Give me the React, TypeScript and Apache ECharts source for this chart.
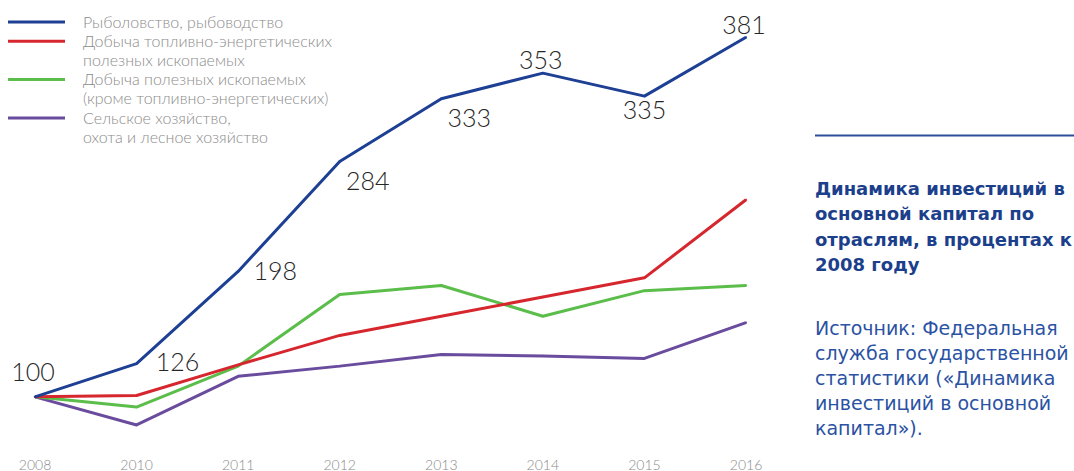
import React, { useEffect, useRef } from "react";
import * as echarts from "echarts";

const years = ["2008", "2010", "2011", "2012", "2013", "2014", "2015", "2016"];
const fishing = [100, 126, 198, 284, 333, 353, 335, 381];
const fuelMining = [100, 101, 125, 148, 163, 178, 193, 254];
const otherMining = [100, 92, 124, 180, 187, 163, 183, 187];
const agriculture = [100, 78, 116, 124, 133, 132, 130, 158];
const fishingLabelOffsets: [number, number][] = [
  [-2, -26], [41, -3], [37, -1], [28, 19], [28, 18], [-2, -14], [0, 13], [-2, -13],
];

const seriesNames = [
  "Рыболовство, рыбоводство",
  "Добыча топливно-энергетических полезных ископаемых",
  "Добыча полезных ископаемых (кроме топливно-энергетических)",
  "Сельское хозяйство, охота и лесное хозяйство",
];
const legendLines = [
  ["Рыболовство, рыбоводство"],
  ["Добыча топливно-энергетических", "полезных ископаемых"],
  ["Добыча полезных ископаемых", "(кроме топливно-энергетических)"],
  ["Сельское хозяйство,", "охота и лесное хозяйство"],
];
const colors = ["#1d3f94", "#d6272e", "#5bbd4a", "#6a4c9e"];
const titleLines = ["Динамика инвестиций в", "основной капитал по", "отраслям, в процентах к", "2008 году"];
const sourceLines = ["Источник: Федеральная", "служба государственной", "статистики («Динамика", "инвестиций в основной", "капитал»)."];

export default function App() {
  const ref = useRef<HTMLDivElement>(null);
  useEffect(() => {
    if (!ref.current) return;
    const chart = echarts.init(ref.current, undefined, { renderer: "svg" });

    const graphics: any[] = [];
    let row = 0;
    const rowH = 19.2;
    legendLines.forEach((lines, i) => {
      const y = 21 + row * rowH;
      graphics.push({
        type: "line",
        shape: { x1: 8, y1: y + 1, x2: 65, y2: y + 1 },
        style: { stroke: colors[i], lineWidth: 3 },
      });
      lines.forEach((t, j) => {
        graphics.push({
          type: "text",
          x: 83,
          y: 21 + (row + j) * rowH,
          style: {
            text: t,
            fill: "#8c8c8c",
            font: "300 16px Lato",
            textVerticalAlign: "middle",
          },
        });
      });
      row += lines.length;
    });

    graphics.push({
      type: "line",
      shape: { x1: 815, y1: 135.5, x2: 1074, y2: 135.5 },
      style: { stroke: "#2c4f9c", lineWidth: 2 },
    });
    titleLines.forEach((t, i) => {
      graphics.push({
        type: "text",
        x: 815,
        y: 188 + i * 25.5,
        style: {
          text: t,
          fill: "#1c3f8c",
          font: "bold 18px 'DejaVu Sans'",
          textVerticalAlign: "middle",
        },
      });
    });
    sourceLines.forEach((t, i) => {
      graphics.push({
        type: "text",
        x: 815,
        y: 328 + i * 25,
        style: {
          text: t,
          fill: "#2b52a3",
          font: "19px 'DejaVu Sans'",
          textVerticalAlign: "middle",
        },
      });
    });

    const datasets = [fishing, fuelMining, otherMining, agriculture];
    chart.setOption({
      animation: false,
      grid: { left: 35, right: 328, top: 13, bottom: 23 },
      xAxis: {
        type: "category",
        data: years,
        boundaryGap: false,
        axisLine: { show: false },
        axisTick: { show: false },
        axisLabel: { color: "#8a8a8a", fontSize: 14, fontFamily: "Lato", fontWeight: 300, margin: 9 },
        splitLine: { show: false },
      },
      yAxis: { type: "value", min: 60, max: 400, show: false, splitLine: { show: false } },
      series: datasets.map((d, i) => ({
        name: seriesNames[i],
        type: "line",
        z: 10 - i,
        data:
          i === 0
            ? d.map((v, k) => ({
                value: v,
                label: {
                  show: true,
                  position: "inside",
                  offset: fishingLabelOffsets[k],
                  formatter: String(v),
                  fontSize: 25,
                  fontFamily: "Lato",
                  fontWeight: 300,
                  color: "#262626",
                },
              }))
            : d,
        symbol: "circle",
        symbolSize: 2,
        showSymbol: true,
        itemStyle: { color: colors[i] },
        lineStyle: { color: colors[i], width: 3 },
        emphasis: { disabled: true },
      })),
      graphic: graphics,
    });
    return () => chart.dispose();
  }, []);
  return <div ref={ref} style={{ width: 1074, height: 471, position: "absolute", left: 0, top: 0 }} />;
}
